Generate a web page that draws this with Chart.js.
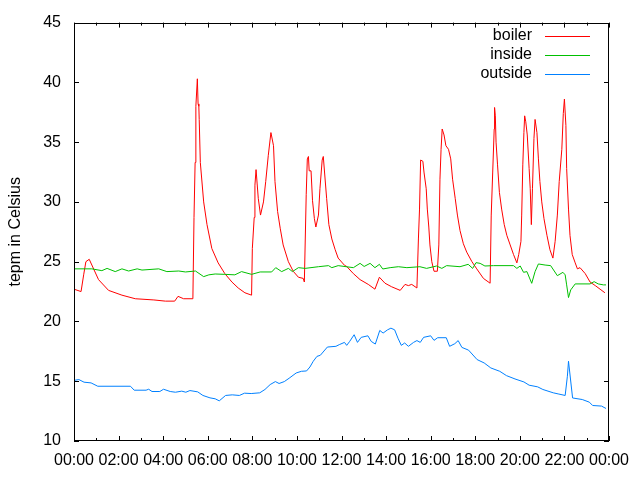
<!DOCTYPE html>
<html>
<head>
<meta charset="utf-8">
<script src="https://cdn.jsdelivr.net/npm/chart.js@4.4.1/dist/chart.umd.min.js"></script>
<style>
  html, body { margin: 0; padding: 0; background: #fff; }
  canvas { display: block; }
</style>
</head>
<body>
<canvas id="chart" width="640" height="480"></canvas>
<script>
// times are minutes after midnight, temperatures in Celsius
const boilerMinutes = [
  0, 19, 26, 32, 41, 66, 93, 129, 165, 215,
  246, 271, 280, 295, 320, 323, 326, 328, 332, 334,
  336, 337, 340, 349, 358, 371, 388, 406, 425, 442,
  460, 478, 480, 485, 487, 490, 493, 496, 502, 510,
  516, 523, 530, 537, 541, 548, 555, 563, 577, 590,
  604, 617, 620, 625, 628, 631, 633, 638, 642, 647,
  651, 658, 662, 668, 671, 680, 686, 694, 703, 711,
  728, 734, 752, 770, 792, 810, 822, 837, 855, 878,
  891, 900, 909, 923, 927, 930, 933, 939, 942, 948,
  951, 955, 958, 963, 969, 978, 982, 985, 988, 991,
  996, 1001, 1008, 1014, 1019, 1026, 1032, 1039, 1048, 1057,
  1071, 1084, 1102, 1120, 1123, 1127, 1131, 1132, 1134, 1136,
  1140, 1145, 1151, 1158, 1165, 1174, 1183, 1192, 1197, 1203,
  1205, 1208, 1211, 1213, 1216, 1220, 1225, 1228, 1231, 1234,
  1238, 1241, 1246, 1250, 1254, 1259, 1265, 1273, 1281, 1289,
  1295, 1301, 1306, 1313, 1317, 1320, 1324, 1326, 1331, 1335,
  1341, 1349, 1355, 1362, 1376, 1389, 1403, 1416, 1429
]
const boilerTemps = [
  22.7, 22.5, 23.9, 25.0, 25.2, 23.5, 22.6, 22.2, 21.9, 21.8,
  21.7, 21.7, 22.1, 21.9, 21.9, 28.7, 33.3, 38.0, 40.3, 38.2,
  38.0, 36.9, 33.3, 30.0, 28.1, 26.1, 24.9, 24.0, 23.3, 22.8,
  22.4, 22.2, 26.1, 28.7, 31.4, 32.7, 31.5, 30.3, 28.9, 30.0,
  31.7, 33.9, 35.8, 34.7, 31.7, 29.2, 27.8, 26.4, 25.0, 24.2,
  23.7, 23.6, 23.3, 30.6, 33.6, 33.8, 32.6, 32.6, 30.1, 28.6,
  27.9, 28.9, 31.1, 33.5, 33.8, 30.3, 28.1, 26.9, 26.0, 25.3,
  24.7, 24.6, 24.0, 23.5, 23.1, 22.7, 23.7, 23.2, 22.9, 22.6,
  23.1, 23.0, 23.1, 22.8, 26.9, 29.4, 33.5, 33.4, 32.5, 31.1,
  29.4, 27.9, 26.4, 25.0, 24.2, 24.2, 26.4, 31.9, 34.4, 36.1,
  35.6, 34.7, 34.4, 33.6, 31.9, 30.3, 28.9, 27.6, 26.5, 25.8,
  25.0, 24.4, 23.6, 23.2, 28.9, 32.5, 36.1, 37.9, 37.2, 35.0,
  33.1, 30.8, 29.4, 28.1, 27.2, 26.4, 25.6, 24.9, 25.6, 26.7,
  28.9, 33.1, 35.8, 37.2, 36.7, 35.6, 32.8, 31.1, 28.1, 31.1,
  35.3, 36.9, 35.8, 33.6, 31.7, 30.0, 28.6, 27.2, 26.0, 25.3,
  26.7, 28.9, 31.7, 34.4, 37.4, 38.6, 36.4, 32.8, 29.4, 27.2,
  25.6, 24.9, 24.4, 24.5, 24.0, 23.3, 23.0, 22.7, 22.4
]

const insideMinutes = [
  2, 48, 75, 89, 111, 129, 147, 170, 183, 228,
  250, 282, 300, 327, 349, 363, 380, 406, 433, 451,
  478, 501, 532, 543, 559, 577, 588, 604, 622, 658,
  685, 694, 711, 752, 770, 781, 797, 810, 822, 831,
  851, 873, 896, 931, 949, 976, 990, 1003, 1039, 1061,
  1073, 1082, 1093, 1106, 1129, 1183, 1192, 1201, 1210, 1219,
  1232, 1241, 1250, 1268, 1283, 1301, 1316, 1322, 1326, 1331,
  1337, 1349, 1389, 1400, 1411, 1425, 1432
]
const insideTemps = [
  24.4, 24.4, 24.25, 24.44, 24.17, 24.4, 24.22, 24.4, 24.3, 24.4,
  24.17, 24.22, 24.14, 24.22, 23.75, 23.9, 23.97, 23.94, 23.9, 24.17,
  23.94, 24.14, 24.14, 24.5, 24.17, 24.44, 24.17, 24.5, 24.44, 24.58,
  24.67, 24.5, 24.67, 24.5, 24.86, 24.6, 24.86, 24.5, 24.78, 24.39,
  24.5, 24.58, 24.5, 24.58, 24.44, 24.64, 24.44, 24.67, 24.58, 24.78,
  24.44, 24.92, 24.86, 24.64, 24.67, 24.67, 24.44, 24.64, 24.11, 24.17,
  23.19, 24.17, 24.81, 24.72, 24.67, 23.83, 24.11, 23.9, 23.06, 22.0,
  22.64, 23.14, 23.14, 23.33, 23.14, 23.06, 23.06
]

const outsideMinutes = [
  2, 13, 27, 46, 64, 152, 162, 194, 201, 210,
  231, 241, 259, 273, 290, 301, 312, 333, 347, 366,
  380, 391, 408, 426, 445, 459, 477, 500, 514, 528,
  542, 552, 566, 579, 598, 612, 626, 635, 644, 654,
  663, 682, 705, 714, 728, 734, 742, 754, 763, 773,
  791, 800, 811, 823, 832, 844, 853, 863, 872, 881,
  890, 900, 914, 923, 932, 941, 960, 969, 979, 1002,
  1011, 1025, 1034, 1044, 1062, 1085, 1104, 1122, 1146, 1164,
  1187, 1211, 1225, 1248, 1262, 1290, 1303, 1322, 1328, 1331,
  1342, 1368, 1387, 1396, 1420, 1432
]
const outsideTemps = [
  15.08, 15.14, 14.92, 14.86, 14.58, 14.58, 14.25, 14.25, 14.33, 14.14,
  14.14, 14.33, 14.14, 14.08, 14.17, 14.08, 14.22, 14.11, 13.81, 13.61,
  13.53, 13.36, 13.81, 13.86, 13.81, 14.0, 13.97, 14.03, 14.31, 14.72,
  14.97, 14.81, 14.97, 15.25, 15.69, 15.83, 15.86, 16.19, 16.67, 17.08,
  17.17, 17.86, 17.92, 18.06, 18.25, 18.0, 18.33, 18.89, 18.25, 18.67,
  18.8, 18.33, 18.11, 19.25, 19.03, 19.3, 19.44, 19.3, 18.6, 18.0,
  18.2, 17.92, 18.25, 18.4, 18.25, 18.67, 18.8, 18.42, 18.64, 18.64,
  17.92, 18.14, 18.4, 17.83, 17.6, 16.81, 16.53, 16.11, 15.83, 15.47,
  15.19, 14.94, 14.67, 14.53, 14.31, 14.03, 13.94, 13.81, 15.42, 16.67,
  13.6, 13.47, 13.25, 12.97, 12.92, 12.72
]

const seriesLabels = ['boiler', 'inside', 'outside']
const seriesColors = ['#ff0000', '#00c000', '#0080ff']
const yTitle = 'tepm in Celsius'

const FONT = "'Liberation Sans', Arial, sans-serif"

function toPoints(minutes, temps) {
  return minutes.map((m, i) => ({ x: m, y: temps[i] }))
}

function clock(value) {
  const m = ((value % 1440) + 1440) % 1440
  const hh = String(Math.floor(m / 60)).padStart(2, '0')
  const mm = String(m % 60).padStart(2, '0')
  return `${hh}:${mm}`
}

// gnuplot style border with inward (and mirrored) tick marks
const frameTicks = {
  id: 'frameTicks',
  afterDatasetsDraw(chart) {
    const { ctx, chartArea: a, scales: { x, y } } = chart
    ctx.save()
    ctx.strokeStyle = '#000'
    ctx.lineWidth = 1
    ctx.beginPath()
    const majors = x.ticks.map(t => t.value)
    majors.forEach((v, i) => {
      const px = Math.round(x.getPixelForValue(v)) + 0.5
      ctx.moveTo(px, a.bottom); ctx.lineTo(px, a.bottom - 5)
      ctx.moveTo(px, a.top); ctx.lineTo(px, a.top + 5)
      if (i < majors.length - 1) {
        const mx = Math.round(x.getPixelForValue((v + majors[i + 1]) / 2)) + 0.5
        ctx.moveTo(mx, a.bottom); ctx.lineTo(mx, a.bottom - 3)
        ctx.moveTo(mx, a.top); ctx.lineTo(mx, a.top + 3)
      }
    })
    y.ticks.forEach(t => {
      const py = Math.round(y.getPixelForValue(t.value)) + 0.5
      ctx.moveTo(a.left, py); ctx.lineTo(a.left + 5, py)
      ctx.moveTo(a.right, py); ctx.lineTo(a.right - 5, py)
    })
    ctx.stroke()
    ctx.strokeRect(Math.round(a.left) + 0.5, Math.round(a.top) + 0.5,
      Math.round(a.width) - 1, Math.round(a.height) - 1)
    ctx.restore()
  }
}

// key in the top right corner: text first, then a line sample
const keyBox = {
  id: 'keyBox',
  afterDraw(chart) {
    const { ctx, chartArea: a } = chart
    ctx.save()
    ctx.font = `16px ${FONT}`
    ctx.textAlign = 'right'
    ctx.textBaseline = 'middle'
    chart.data.datasets.forEach((ds, i) => {
      const yy = a.top + 13 + i * 19
      ctx.fillStyle = '#000'
      ctx.fillText(ds.label, a.right - 77, yy)
      ctx.strokeStyle = ds.borderColor
      ctx.lineWidth = 1
      ctx.beginPath()
      ctx.moveTo(a.right - 64, Math.round(yy) + 0.5)
      ctx.lineTo(a.right - 19, Math.round(yy) + 0.5)
      ctx.stroke()
    })
    ctx.restore()
  }
}

const seriesData = [
  toPoints(boilerMinutes, boilerTemps),
  toPoints(insideMinutes, insideTemps),
  toPoints(outsideMinutes, outsideTemps)
]

const ctx = document.getElementById('chart').getContext('2d')

new Chart(ctx, {
  type: 'line',
  data: {
    datasets: seriesLabels.map((label, i) => ({
      label: label,
      data: seriesData[i],
      borderColor: seriesColors[i],
      backgroundColor: seriesColors[i],
      borderWidth: 1,
      pointRadius: 0,
      tension: 0,
      fill: false,
      order: 3 - i
    }))
  },
  options: {
    responsive: false,
    animation: false,
    layout: {
      padding: { top: 20, right: 31, left: 0, bottom: 0 }
    },
    plugins: {
      legend: { display: false },
      tooltip: { enabled: false }
    },
    scales: {
      x: {
        type: 'linear',
        min: 0,
        max: 1440,
        border: { display: false },
        grid: { display: false, drawTicks: false },
        ticks: {
          stepSize: 120,
          autoSkip: false,
          maxRotation: 0,
          padding: 10,
          color: '#000',
          font: { size: 16, family: FONT },
          callback: value => clock(value)
        },
        afterFit: scale => { scale.height = 39 }
      },
      y: {
        min: 10,
        max: 45,
        border: { display: false },
        grid: { display: false, drawTicks: false },
        ticks: {
          stepSize: 5,
          padding: 13,
          color: '#000',
          font: { size: 16, family: FONT }
        },
        title: {
          display: true,
          text: yTitle,
          color: '#000',
          font: { size: 16, family: FONT },
          padding: { top: 6, bottom: 0 }
        },
        afterFit: scale => { scale.width = 74 }
      }
    }
  },
  plugins: [frameTicks, keyBox]
})
</script>
</body>
</html>
